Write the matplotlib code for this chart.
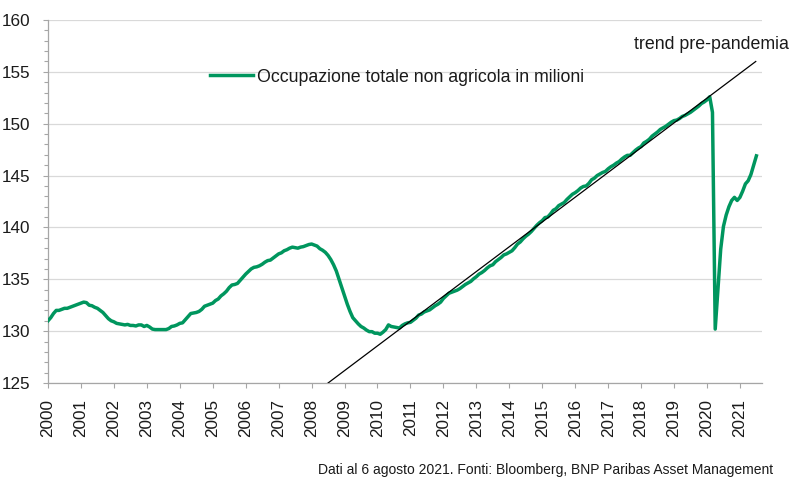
import matplotlib
matplotlib.use("Agg")
import matplotlib.pyplot as plt
from matplotlib import font_manager as fm
from matplotlib.lines import Line2D
from matplotlib.ticker import MultipleLocator
import numpy as np

# ---------------- data (millions) ----------------
start_year = 2000
v2000 = [131.0, 131.3, 131.7, 132.0, 132.0, 132.1, 132.2, 132.2, 132.3, 132.4, 132.5, 132.6]
v2001 = [132.7, 132.8, 132.75, 132.5, 132.45, 132.3, 132.2, 132.0, 131.8, 131.5, 131.2, 131.0]
v2002 = [130.9, 130.75, 130.7, 130.65, 130.6, 130.65, 130.55, 130.55, 130.5, 130.6, 130.6, 130.45]
v2003 = [130.55, 130.4, 130.2, 130.15, 130.15, 130.15, 130.15, 130.15, 130.25, 130.45, 130.5, 130.6]
v2004 = [130.75, 130.8, 131.1, 131.4, 131.7, 131.75, 131.8, 131.9, 132.1, 132.4, 132.5, 132.6]
v2005 = [132.7, 132.95, 133.1, 133.4, 133.6, 133.85, 134.2, 134.45, 134.5, 134.6, 134.9, 135.2]
v2006 = [135.5, 135.75, 136.0, 136.15, 136.2, 136.3, 136.45, 136.65, 136.8, 136.85, 137.05, 137.25]
v2007 = [137.45, 137.55, 137.75, 137.85, 138.0, 138.1, 138.05, 138.0, 138.1, 138.15, 138.25, 138.35]
v2008 = [138.4, 138.3, 138.2, 137.95, 137.8, 137.6, 137.3, 136.9, 136.4, 135.8, 135.0, 134.2]
v2009 = [133.4, 132.6, 131.9, 131.3, 131.0, 130.7, 130.45, 130.3, 130.1, 129.95, 129.95, 129.8]
v2010 = [129.8, 129.7, 129.9, 130.15, 130.6, 130.45, 130.4, 130.35, 130.3, 130.55, 130.7, 130.8]
v2011 = [130.85, 131.05, 131.25, 131.55, 131.65, 131.85, 131.95, 132.05, 132.25, 132.45, 132.6, 132.8]
v2012 = [133.15, 133.4, 133.65, 133.75, 133.85, 133.95, 134.1, 134.3, 134.5, 134.65, 134.8, 135.05]
v2013 = [135.25, 135.5, 135.65, 135.85, 136.1, 136.3, 136.4, 136.7, 136.9, 137.1, 137.35, 137.45]
v2014 = [137.6, 137.75, 138.05, 138.4, 138.6, 138.9, 139.15, 139.35, 139.6, 139.9, 140.2, 140.45]
v2015 = [140.65, 140.95, 141.0, 141.3, 141.65, 141.8, 142.1, 142.25, 142.4, 142.7, 142.95, 143.2]
v2016 = [143.35, 143.55, 143.8, 143.95, 144.0, 144.25, 144.6, 144.75, 145.0, 145.15, 145.3, 145.4]
v2017 = [145.65, 145.85, 146.0, 146.2, 146.35, 146.6, 146.8, 146.95, 146.95, 147.2, 147.45, 147.65]
v2018 = [147.8, 148.15, 148.3, 148.5, 148.8, 149.0, 149.2, 149.45, 149.6, 149.75, 149.95, 150.15]
v2019 = [150.3, 150.35, 150.5, 150.7, 150.8, 150.95, 151.1, 151.3, 151.5, 151.7, 151.95, 152.1]
v2020 = [152.3, 152.6, 151.1, 130.2, 134.0, 137.9, 140.1, 141.2, 142.0, 142.6, 142.9, 142.6]
v2021 = [142.9, 143.5, 144.2, 144.5, 145.1, 146.0, 146.9]

trend_years = [2008.5, 2021.48]
trend_values = [125.0, 156.0]

year_ticks = list(range(2000, 2022))
y_ticks = [125, 130, 135, 140, 145, 150, 155, 160]

series_label = "Occupazione totale non agricola in milioni"
trend_label = "trend pre-pandemia"
footnote = "Dati al 6 agosto 2021. Fonti: Bloomberg, BNP Paribas Asset Management"

values = np.array(v2000 + v2001 + v2002 + v2003 + v2004 + v2005 + v2006 + v2007 +
                  v2008 + v2009 + v2010 + v2011 + v2012 + v2013 + v2014 + v2015 +
                  v2016 + v2017 + v2018 + v2019 + v2020 + v2021)
dates = start_year + np.arange(len(values)) / 12.0

# ---------------- fonts ----------------
names = {f.name for f in fm.fontManager.ttflist}
if "Liberation Sans Narrow" in names:
    fam, k = "Liberation Sans Narrow", 1.0
else:
    fam, k = "Liberation Sans", 0.85
plt.rcParams["font.family"] = [fam, "DejaVu Sans"]

GREEN = "#00965E"
GRID = "#D9D9D9"
AXC = "#A6A6A6"
TXT = "#1A1A1A"

fig = plt.figure(figsize=(8.0, 4.97), dpi=100)
ax = fig.add_axes([48 / 800, 1 - 383 / 497, (762 - 48) / 800, (383 - 20) / 497])

ax.plot(dates, values, color=GREEN, lw=2.5, solid_joinstyle="round", zorder=3)
ax.plot(trend_years, trend_values, color="black", lw=0.9, zorder=4)

ax.set_xlim(2000, 2021.67)
ax.set_ylim(125, 160)
ax.set_xticks(year_ticks)
ax.set_xticklabels([str(y) for y in year_ticks], rotation=90)
ax.set_yticks(y_ticks)
ax.yaxis.set_minor_locator(MultipleLocator(1))

ax.grid(axis="y", which="major", color=GRID, lw=0.9, zorder=0)
ax.set_axisbelow(True)
for s in ["top", "right"]:
    ax.spines[s].set_visible(False)
for s in ["left", "bottom"]:
    ax.spines[s].set_color(AXC)
    ax.spines[s].set_linewidth(0.9)

ax.tick_params(axis="y", which="major", direction="out", length=3.5, width=0.8,
               color=AXC, pad=9.0, labelsize=14.5 * k, labelcolor=TXT)
ax.tick_params(axis="y", which="minor", direction="out", length=3.0, width=0.8, color=AXC)
ax.tick_params(axis="x", which="major", direction="out", length=3.5, width=0.8,
               color=AXC, pad=8, labelsize=14.5 * k, labelcolor=TXT)

fs_leg = 15 * k
fs_px = fs_leg * 100 / 72
handle = Line2D([], [], color=GREEN, lw=2.5)
ax.legend([handle], [series_label], loc="center left",
          bbox_to_anchor=((210 - 48) / 714, (383 - 77) / 363),
          frameon=False, borderpad=0, borderaxespad=0,
          handlelength=43 / fs_px, handletextpad=4 / fs_px,
          prop={"size": fs_leg}, labelcolor=TXT)

ax.text(2017.78, 157.6, trend_label, ha="left", va="center",
        fontsize=15 * k, color=TXT)

fig.text(773 / 800, 1 - 470 / 497, footnote, ha="right", va="center",
         fontsize=11.8 * k, color=TXT)

fig.savefig("out.png", dpi=100)
